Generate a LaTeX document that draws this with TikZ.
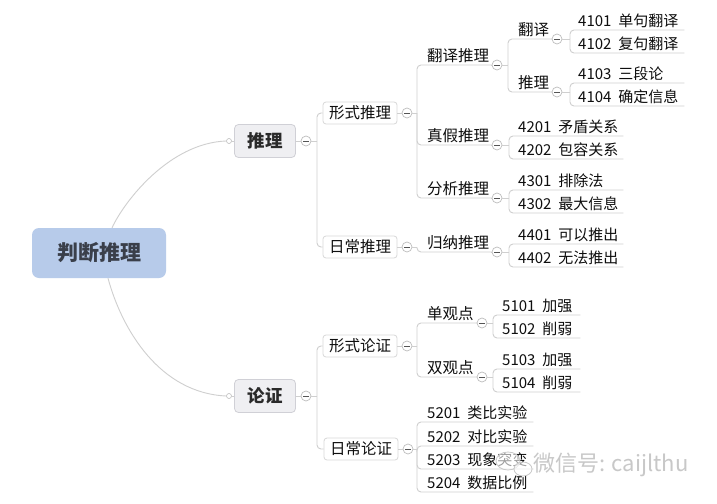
\documentclass[tikz,border=0pt]{standalone}
\usepackage{fontspec}
\setmainfont{Noto Sans CJK SC}
\definecolor{rootblue}{HTML}{B7CBEA}
\definecolor{txtroot}{HTML}{3A3F4A}
\definecolor{txtdark}{HTML}{2A2A2A}
\definecolor{txt}{HTML}{0E0E0E}
\definecolor{mainfill}{HTML}{EFEFF2}
\definecolor{mainedge}{HTML}{D0D0D6}
\definecolor{subedge}{HTML}{D8D8D8}
\definecolor{lineg}{HTML}{CFCFCF}
\definecolor{togedge}{HTML}{BDBDBD}
\definecolor{togdash}{HTML}{555555}
\definecolor{wmgray}{HTML}{C8C8C8}
\newcommand\lt[2]{#1\hspace{7pt}#2}
\tikzset{
  conn/.style={draw=lineg, line width=0.9pt, rounded corners=4pt},
  rootbox/.style={fill=rootblue, rounded corners=7pt, minimum width=134pt, minimum height=50pt,
    font=\fontsize{21}{24}\selectfont\bfseries, text=txtroot, inner sep=0pt},
  mainbox/.style={fill=mainfill, draw=mainedge, line width=0.8pt, rounded corners=4pt,
    minimum width=61pt, minimum height=33pt, font=\fontsize{17.5}{20}\selectfont\bfseries,
    text=txtdark, inner sep=0pt},
  subbox/.style={fill=white, draw=subedge, line width=0.8pt, rounded corners=3pt,
    minimum width=74pt, minimum height=22pt, font=\fontsize{15.5}{18}\selectfont, text=txt, inner sep=0pt},
  ul/.style={anchor=south west, inner sep=0pt, text depth=3pt, align=left, text=txt},
  mid/.style={ul, font=\fontsize{15.5}{18}\selectfont},
  leaf/.style={ul, font=\fontsize{15}{17}\selectfont},
  tog/.style={circle, draw=togedge, fill=white, line width=0.7pt, minimum size=10pt, inner sep=0pt,
    path picture={\draw[togdash, line width=0.8pt]
      ([xshift=-2.6pt]path picture bounding box.center) -- ([xshift=2.6pt]path picture bounding box.center);}},
  dot/.style={circle, draw=togedge, fill=white, line width=0.6pt, minimum size=5pt, inner sep=0pt},
  wm/.style={anchor=west, inner sep=0pt, text=wmgray, font=\fontsize{22}{24}\selectfont},
}
\begin{document}
\begin{tikzpicture}[x=1pt,y=-1pt]
\path[use as bounding box, fill=white] (0,0) rectangle (717,503);

% root and level 1
\node[rootbox] (root) at (99,253) {判断推理};
\node[mainbox] (tl) at (265,141) {推理};
\node[mainbox] (lz) at (265,396) {论证};
\node[dot] (d1) at (229,141) {};
\node[dot] (d2) at (229,396) {};
\draw[conn] ([xshift=13pt]root.north) .. controls (125,200) and (170,143) .. (d1.west);
\draw[conn] ([xshift=9pt]root.south) .. controls (122,330) and (160,393) .. (d2.west);
\draw[conn] (d1.east) -- (tl.west);
\draw[conn] (d2.east) -- (lz.west);

% ---------- 推理 ----------
\node[tog] (t1) at (306,141) {};
\draw[conn] (tl.east) -- (t1.west);
\coordinate (j1) at (317,141);
\draw[conn] (t1.east) -- (j1);
\node[subbox] (xstl) at (360,113) {形式推理};
\node[subbox] (rctl) at (360,247) {日常推理};
\draw[conn] (j1) |- (xstl.west);
\draw[conn] (j1) |- (rctl.west);

% 形式推理
\node[tog] (t2) at (407,113) {};
\draw[conn] (xstl.east) -- (t2.west);
\coordinate (j2) at (417,113);
\draw[conn] (t2.east) -- (j2);
\node[mid, text width=64pt] (fytl) at (427,65) {翻译推理};
\node[mid, text width=64pt] (zjtl) at (427,145) {真假推理};
\node[mid, text width=64pt] (fxtl) at (427,198) {分析推理};
\draw[conn] (j2) |- (fytl.south east);
\draw[conn] (j2) |- (zjtl.south east);
\draw[conn] (j2) |- (fxtl.south east);

% 翻译推理
\node[tog] (t3) at (497,65) {};
\draw[conn] (fytl.south east) -- (t3.west);
\coordinate (j3) at (508,65);
\draw[conn] (t3.east) -- (j3);
\node[mid, text width=34pt] (fy) at (518,39) {翻译};
\node[mid, text width=34pt] (tl2) at (518,92) {推理};
\draw[conn] (j3) |- (fy.south east);
\draw[conn] (j3) |- (tl2.south east);

\node[tog] (t6) at (557,39) {};
\draw[conn] (fy.south east) -- (t6.west);
\coordinate (j4) at (570,39);
\draw[conn] (t6.east) -- (j4);
\node[leaf, text width=106pt] (l4101) at (578,30) {\lt{4101}{单句翻译}};
\node[leaf, text width=106pt] (l4102) at (578,53) {\lt{4102}{复句翻译}};
\draw[conn] (j4) |- (l4101.south east);
\draw[conn] (j4) |- (l4102.south east);

\node[tog] (t7) at (557,92) {};
\draw[conn] (tl2.south east) -- (t7.west);
\coordinate (j5) at (570,92);
\draw[conn] (t7.east) -- (j5);
\node[leaf, text width=106pt] (l4103) at (578,83) {\lt{4103}{三段论}};
\node[leaf, text width=106pt] (l4104) at (578,106) {\lt{4104}{确定信息}};
\draw[conn] (j5) |- (l4103.south east);
\draw[conn] (j5) |- (l4104.south east);

% 真假推理
\node[tog] (t4) at (497,145) {};
\draw[conn] (zjtl.south east) -- (t4.west);
\coordinate (j6) at (509,145);
\draw[conn] (t4.east) -- (j6);
\node[leaf, text width=105pt] (l4201) at (518,136) {\lt{4201}{矛盾关系}};
\node[leaf, text width=105pt] (l4202) at (518,159) {\lt{4202}{包容关系}};
\draw[conn] (j6) |- (l4201.south east);
\draw[conn] (j6) |- (l4202.south east);

% 分析推理
\node[tog] (t5) at (497,198) {};
\draw[conn] (fxtl.south east) -- (t5.west);
\coordinate (j7) at (509,198);
\draw[conn] (t5.east) -- (j7);
\node[leaf, text width=105pt] (l4301) at (518,190) {\lt{4301}{排除法}};
\node[leaf, text width=105pt] (l4302) at (518,213) {\lt{4302}{最大信息}};
\draw[conn] (j7) |- (l4301.south east);
\draw[conn] (j7) |- (l4302.south east);

% 日常推理
\node[tog] (t8) at (407,247) {};
\draw[conn] (rctl.east) -- (t8.west);
\coordinate (j8) at (417,247);
\draw[conn] (t8.east) -- (j8);
\node[mid, text width=64pt] (gntl) at (427,252) {归纳推理};
\draw[conn] (j8) |- (gntl.south east);
\node[tog] (t9) at (497,252) {};
\draw[conn] (gntl.south east) -- (t9.west);
\coordinate (j9) at (509,252);
\draw[conn] (t9.east) -- (j9);
\node[leaf, text width=105pt] (l4401) at (518,244) {\lt{4401}{可以推出}};
\node[leaf, text width=105pt] (l4402) at (518,267) {\lt{4402}{无法推出}};
\draw[conn] (j9) |- (l4401.south east);
\draw[conn] (j9) |- (l4402.south east);

% ---------- 论证 ----------
\node[tog] (t10) at (306,396) {};
\draw[conn] (lz.east) -- (t10.west);
\coordinate (j10) at (317,396);
\draw[conn] (t10.east) -- (j10);
\node[subbox] (xslz) at (360,346) {形式论证};
\node[subbox] (rclz) at (361,449) {日常论证};
\draw[conn] (j10) |- (xslz.west);
\draw[conn] (j10) |- (rclz.west);

% 形式论证
\node[tog] (t11) at (407,346) {};
\draw[conn] (xslz.east) -- (t11.west);
\coordinate (j11) at (417,346);
\draw[conn] (t11.east) -- (j11);
\node[mid, text width=50pt] (dgd) at (427,323) {单观点};
\node[mid, text width=50pt] (sgd) at (427,377) {双观点};
\draw[conn] (j11) |- (dgd.south east);
\draw[conn] (j11) |- (sgd.south east);

\node[tog] (t12) at (482,323) {};
\draw[conn] (dgd.south east) -- (t12.west);
\coordinate (j12) at (493,323);
\draw[conn] (t12.east) -- (j12);
\node[leaf, text width=78pt] (l5101) at (502,315) {\lt{5101}{加强}};
\node[leaf, text width=78pt] (l5102) at (502,338) {\lt{5102}{削弱}};
\draw[conn] (j12) |- (l5101.south east);
\draw[conn] (j12) |- (l5102.south east);

\node[tog] (t13) at (482,377) {};
\draw[conn] (sgd.south east) -- (t13.west);
\coordinate (j13) at (493,377);
\draw[conn] (t13.east) -- (j13);
\node[leaf, text width=78pt] (l5103) at (502,369) {\lt{5103}{加强}};
\node[leaf, text width=78pt] (l5104) at (502,392) {\lt{5104}{削弱}};
\draw[conn] (j13) |- (l5103.south east);
\draw[conn] (j13) |- (l5104.south east);

% 日常论证
\node[tog] (t14) at (408,449) {};
\draw[conn] (rclz.east) -- (t14.west);
\coordinate (j14) at (417,449);
\draw[conn] (t14.east) -- (j14);
\node[leaf, text width=106pt] (l5201) at (427,422) {\lt{5201}{类比实验}};
\node[leaf, text width=106pt] (l5202) at (427,446) {\lt{5202}{对比实验}};
\node[leaf, text width=106pt] (l5203) at (427,469) {\lt{5203}{现象突变}};
\node[leaf, text width=106pt] (l5204) at (427,492) {\lt{5204}{数据比例}};
\draw[conn] (j14) |- (l5201.south east);
\draw[conn] (j14) |- (l5202.south east);
\draw[conn] (j14) |- (l5203.south east);
\draw[conn] (j14) |- (l5204.south east);

% watermark
\fill[white, opacity=0.6] (508,461) ellipse [x radius=12pt, y radius=9pt];
\draw[wmgray, line width=0.8pt] (508,461) ellipse [x radius=12pt, y radius=9pt];
\fill[white, opacity=0.6] (523,469) ellipse [x radius=9pt, y radius=7pt];
\draw[wmgray, line width=0.8pt] (523,469) ellipse [x radius=9pt, y radius=7pt];
\node[wm] (wmark) at (533,465) {微信号: caijlthu};
\end{tikzpicture}
\end{document}
